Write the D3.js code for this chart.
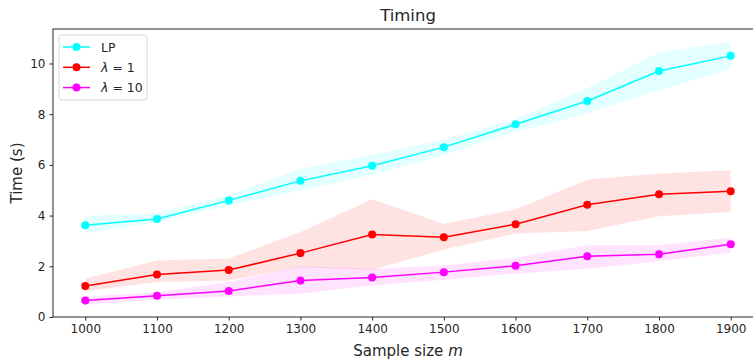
<!DOCTYPE html>
<html>
<head>
<meta charset="utf-8">
<script src="https://cdn.jsdelivr.net/npm/d3@7"></script>
<style>
body { margin:0; background:#fff; }
text { font-family: "DejaVu Sans", sans-serif; fill:#262626; }
</style>
</head>
<body>
<div id="chart-area"></div>
<script>
// data
const sizes = [1000, 1100, 1200, 1300, 1400, 1500, 1600, 1700, 1800, 1900];
const lpMean  = [3.62, 3.87, 4.6, 5.37, 5.97, 6.7, 7.6, 8.52, 9.7, 10.3];
const lpLow   = [3.3, 3.75, 4.4, 5.0, 5.6, 6.4, 7.3, 8.04, 8.95, 9.78];
const lpHigh  = [3.98, 4.1, 4.8, 5.85, 6.4, 7.0, 7.8, 9.03, 10.43, 10.85];
const l1Mean  = [1.22, 1.68, 1.85, 2.52, 3.25, 3.15, 3.66, 4.43, 4.84, 4.96];
const l1Low   = [1.02, 1.38, 1.44, 1.96, 1.86, 2.66, 3.29, 3.39, 3.97, 4.14];
const l1High  = [1.52, 2.23, 2.31, 3.35, 4.64, 3.68, 4.24, 5.42, 5.66, 5.79];
const l10Mean = [0.65, 0.84, 1.03, 1.44, 1.56, 1.77, 2.02, 2.4, 2.48, 2.87];
const l10Low  = [0.49, 0.68, 0.81, 0.92, 1.24, 1.47, 1.71, 1.9, 2.2, 2.54];
const l10High = [0.81, 0.98, 1.38, 2.0, 1.9, 2.03, 2.34, 2.83, 2.83, 3.13];
const yTicks = [0, 2, 4, 6, 8, 10];

const series = [
  { name: "LP", color: "#00ffff", mean: lpMean, low: lpLow, high: lpHigh },
  { name: "λ = 1", color: "#ff0000", mean: l1Mean, low: l1Low, high: l1High },
  { name: "λ = 10", color: "#ff00ff", mean: l10Mean, low: l10Low, high: l10High }
];

const margin = { left:53, right:-10, top:29, bottom:43 };
const W = 753, H = 360;
const width = W - margin.left - margin.right,
    height = H - margin.top - margin.bottom;

const svg = d3.select("#chart-area")
    .append("svg")
    .attr("width", W)
    .attr("height", H);

const g = svg.append("g")
    .attr("transform", "translate(" + margin.left + ", " + margin.top + ")");

const x = d3.scaleLinear().domain([955, 1945]).range([0, width]);
const y = d3.scaleLinear().domain([0, 11.36]).range([height, 0]);

// bands, then lines and markers
series.forEach(function(s){
    const area = d3.area()
        .x(function(d, i){ return x(sizes[i]); })
        .y0(function(d, i){ return y(s.low[i]); })
        .y1(function(d, i){ return y(s.high[i]); });
    g.append("path")
        .datum(s.mean)
        .attr("d", area)
        .attr("fill", s.color)
        .attr("fill-opacity", 0.11);
});

series.forEach(function(s){
    const line = d3.line()
        .x(function(d, i){ return x(sizes[i]); })
        .y(function(d){ return y(d); });
    g.append("path")
        .datum(s.mean)
        .attr("d", line)
        .attr("fill", "none")
        .attr("stroke", s.color)
        .attr("stroke-width", 1.5);
    g.selectAll(null)
        .data(s.mean)
        .enter()
        .append("circle")
        .attr("cx", function(d, i){ return x(sizes[i]); })
        .attr("cy", function(d){ return y(d); })
        .attr("r", 4)
        .attr("fill", s.color);
});

// axes
const xAxis = g.append("g")
    .attr("transform", "translate(0, " + height + ")")
    .call(d3.axisBottom(x).tickValues(sizes).tickSize(3.5).tickPadding(4).tickFormat(d3.format("d")));
const yAxis = g.append("g")
    .call(d3.axisLeft(y).tickValues(yTicks).tickSize(3.5).tickPadding(4));
[xAxis, yAxis].forEach(function(a){
    a.selectAll("text").attr("font-size", "12px").attr("font-family", "DejaVu Sans").attr("fill", "#262626");
    a.selectAll("line").attr("stroke", "#262626");
    a.select(".domain").remove();
});

// spines
g.append("rect")
    .attr("x", 0).attr("y", 0)
    .attr("width", width).attr("height", height)
    .attr("fill", "none")
    .attr("stroke", "#262626")
    .attr("stroke-width", 1);

// title and labels
svg.append("text")
    .attr("x", margin.left + width / 2)
    .attr("y", 21)
    .attr("text-anchor", "middle")
    .attr("font-size", "16.5px")
    .text("Timing");

const xl = svg.append("text")
    .attr("x", margin.left + width / 2)
    .attr("y", 356)
    .attr("text-anchor", "middle")
    .attr("font-size", "15px");
xl.append("tspan").text("Sample size ");
xl.append("tspan").attr("font-style", "italic").text("m");

svg.append("text")
    .attr("transform", "translate(22," + (margin.top + height / 2) + ") rotate(-90)")
    .attr("text-anchor", "middle")
    .attr("font-size", "15px")
    .text("Time (s)");

// legend
const leg = g.append("g").attr("transform", "translate(6,6)");
leg.append("rect")
    .attr("width", 88).attr("height", 65)
    .attr("rx", 3)
    .attr("fill", "#fff").attr("fill-opacity", 0.8)
    .attr("stroke", "#d6d6d6");
series.forEach(function(s, i){
    const row = leg.append("g").attr("transform", "translate(0," + (12 + i * 20.3) + ")");
    row.append("line").attr("x1", 4).attr("x2", 31).attr("stroke", s.color).attr("stroke-width", 1.5);
    row.append("circle").attr("cx", 17.5).attr("r", 4).attr("fill", s.color);
    const t = row.append("text").attr("x", 42).attr("y", 4.5).attr("font-size", "12.5px");
    if (i === 0) {
        t.text(s.name);
    } else {
        t.append("tspan").attr("font-style", "italic").text("λ");
        t.append("tspan").text(s.name.slice(1));
    }
});
</script>
</body>
</html>
